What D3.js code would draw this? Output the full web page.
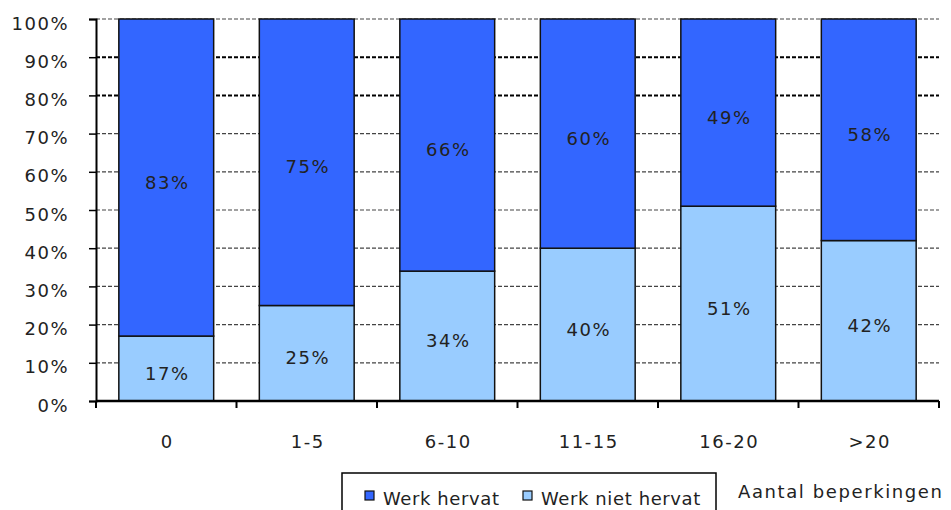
<!DOCTYPE html>
<html><head><meta charset="utf-8">
<script src="https://cdn.jsdelivr.net/npm/d3@7/dist/d3.min.js"></script>
<style>body{margin:0;background:#fff}svg{display:block}text{font-family:"DejaVu Sans",Verdana,sans-serif;fill:#222}</style>
</head><body>
<svg id="c" width="951" height="510"></svg>
<script>
const categories = ["0","1-5","6-10","11-15","16-20",">20"];
const nietHervat = [17,25,34,40,51,42];
const hervat = [83,75,66,60,49,58];
const yTicks = [0,10,20,30,40,50,60,70,80,90,100];
const seriesNames = ["Werk hervat","Werk niet hervat"];
const colors = {"Werk hervat":"#3366FF","Werk niet hervat":"#99CCFF"};

const svg = d3.select("#c");
const x = d3.scaleBand().domain(categories).range([96,939]).paddingInner(0.325).paddingOuter(0.1625);
const y = d3.scaleLinear().domain([0,100]).range([401,19]);

// gridlines
svg.append("g").selectAll("line").data(yTicks.filter(d=>d>0)).join("line")
  .attr("x1",96).attr("x2",939).attr("y1",d=>y(d)).attr("y2",d=>y(d))
  .attr("stroke",d=>(d===80||d===90)?"#000":"#444")
  .attr("stroke-width",d=>(d===80||d===90)?2:1.2)
  .attr("stroke-dasharray","4,2");

// stacked bars
const data = categories.map((c,i)=>({cat:c,"Werk niet hervat":nietHervat[i],"Werk hervat":hervat[i]}));
const stack = d3.stack().keys(["Werk niet hervat","Werk hervat"])(data);
const g = svg.append("g");
stack.forEach(layer=>{
  g.selectAll(null).data(layer).join("rect")
    .attr("x",d=>x(d.data.cat)).attr("width",x.bandwidth())
    .attr("y",d=>y(d[1])).attr("height",d=>y(d[0])-y(d[1]))
    .attr("fill",colors[layer.key]).attr("stroke","#111").attr("stroke-width",1.5);
  g.selectAll(null).data(layer).join("text")
    .attr("x",d=>x(d.data.cat)+x.bandwidth()/2+1).attr("y",d=>y((d[0]+d[1])/2)+11)
    .attr("text-anchor","middle").attr("font-size",18).style("letter-spacing","1.5px")
    .text(d=>(d[1]-d[0])+"%");
});

// y axis
const yAxis = svg.append("g").attr("transform","translate(96,0)")
  .call(d3.axisLeft(y).tickValues(yTicks).tickSize(7).tickPadding(20).tickFormat(d=>d+"%"));
yAxis.select(".domain").attr("stroke","#000").attr("stroke-width",2);
yAxis.selectAll(".tick line").attr("stroke","#000").attr("stroke-width",1.5);
yAxis.selectAll("text").attr("font-size",18).attr("fill","#222").style("letter-spacing","1.5px")
  .style("font-family","DejaVu Sans, sans-serif").attr("dy",10);

// x axis
const xAxis = svg.append("g").attr("transform","translate(0,401)")
  .call(d3.axisBottom(x).tickSize(0));
xAxis.select(".domain").attr("d","M96,0H939").attr("stroke","#000").attr("stroke-width",2.5);
xAxis.selectAll("text").attr("font-size",18).attr("fill","#222").attr("y",47).attr("dy",0).attr("dx",1)
  .style("letter-spacing","1.5px").style("font-family","DejaVu Sans, sans-serif");
const bounds = categories.map(c=>x(c)-x.step()*x.paddingInner()/2);
bounds.push(939);
xAxis.append("g").selectAll("line").data(bounds).join("line")
  .attr("x1",d=>d).attr("x2",d=>d).attr("y1",0).attr("y2",7).attr("stroke","#000").attr("stroke-width",2);

// legend
const lg = svg.append("g");
lg.append("rect").attr("x",342).attr("y",473).attr("width",374).attr("height",45)
  .attr("fill","#fff").attr("stroke","#000").attr("stroke-width",1.5);
const lx = [365,523];
seriesNames.forEach((s,i)=>{
  lg.append("rect").attr("x",lx[i]).attr("y",491).attr("width",9).attr("height",9)
    .attr("fill",colors[s]).attr("stroke","#111").attr("stroke-width",1.2);
  lg.append("text").attr("x",lx[i]+18).attr("y",505).attr("font-size",18).style("letter-spacing","0.6px").text(s);
});
svg.append("text").attr("x",738).attr("y",498).attr("font-size",18).style("letter-spacing","1.6px").text("Aantal beperkingen");
</script>
</body></html>
